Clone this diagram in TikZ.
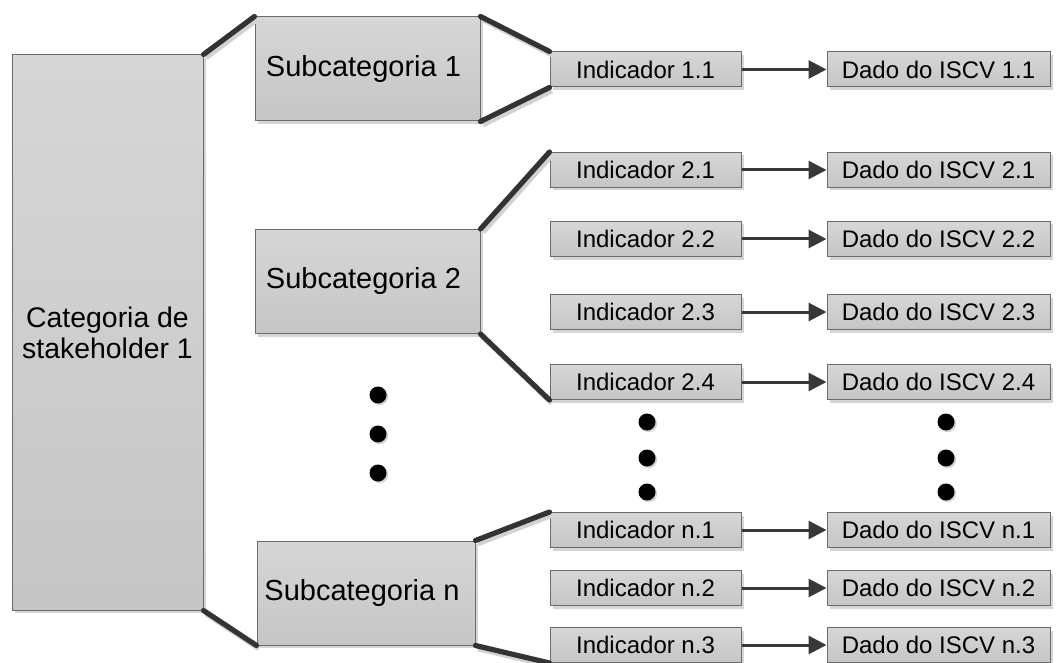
\documentclass[tikz,border=0pt]{standalone}
\usepackage{fontspec}
\setmainfont{Liberation Sans}
\usetikzlibrary{positioning, shadows, arrows.meta}

\begin{document}
\begin{tikzpicture}[x = 0.5pt, y = -0.5pt,
    box/.style = { draw = black!58, line width = 0.5pt, top color = gray!32, bottom color = gray!45,
                   drop shadow={shadow xshift=1.5pt,shadow yshift=-1.5pt,fill=gray!55,opacity=0.6},
                   align = center, inner sep = 0pt },
    bigbox/.style = { box, font = \fontsize{14.2pt}{15.5pt}\selectfont },
    subbox/.style = { box, minimum height = 52pt, font = \fontsize{14.5pt}{17pt}\selectfont },
    indbox/.style = { box, minimum width = 95.5pt, minimum height = 17.5pt, font = \fontsize{12pt}{14pt}\selectfont },
    datbox/.style = { box, minimum width = 111.5pt, minimum height = 17.5pt, font = \fontsize{12pt}{14pt}\selectfont },
    link/.style = { draw = black!80, line width = 2.6pt, line cap = round },
    linkshade/.style = { draw = gray!35, line width = 2.6pt, transform canvas={shift={(1.2pt,-1.6pt)}} },
    arr/.style = { draw = black!78, line width = 1.5pt, -{Triangle[length=9pt,width=9pt]} },
    dot/.style = { circle, fill = black, minimum size = 8.5pt, inner sep = 0pt,
                   drop shadow={shadow xshift=0.8pt,shadow yshift=-0.8pt,fill=gray!60,opacity=0.6} }]
  \useasboundingbox (0,0) rectangle (1059,663);

  % categoria and subcategorias
  \node [bigbox, minimum width = 95.5pt, minimum height = 277.5pt] (cat) at (107.5,332.5) { Categoria de \\ stakeholder 1 };
  \node [subbox, minimum width = 112.5pt] (sub1) at (367.5,69) { Subcategoria 1 };
  \node [subbox, minimum width = 112.5pt] (sub2) at (367.5,281.5) { Subcategoria 2 };
  \node [subbox, minimum width = 109pt] (subn) at (366,593) { Subcategoria n };

  % indicadores and dados
  \foreach \id/\lbl/\y in {11/1.1/69.5, 21/2.1/170, 22/2.2/239, 23/2.3/312, 24/2.4/382,
                           n1/n.1/530, n2/n.2/588, n3/n.3/645} {
    \node [indbox] (ind\id) at (645.5,\y) { Indicador \lbl };
    \node [datbox, right = 42.5pt of ind\id] (dat\id) { Dado do ISCV \lbl };
    \draw [arr] (ind\id) -- (dat\id);
  }

  % dots
  \foreach \n/\x/\y in {a1/378/395, a2/378/434, a3/378/473,
                        b1/647/422, b2/647/458, b3/647/492,
                        c1/946/422, c2/946/458, c3/946/492}
    \node [dot] (dot\n) at (\x,\y) {};

  % links
  \foreach \a/\b in {cat.north east/sub1.north west, cat.south east/subn.south west,
                     sub1.north east/ind11.north west, sub1.south east/ind11.south west,
                     sub2.north east/ind21.north west, sub2.south east/ind24.south west,
                     subn.north east/indn1.north west, subn.south east/indn3.south west} {
    \draw [linkshade] (\a) -- (\b);
    \draw [link] (\a) -- (\b);
  }
\end{tikzpicture}
\end{document}
